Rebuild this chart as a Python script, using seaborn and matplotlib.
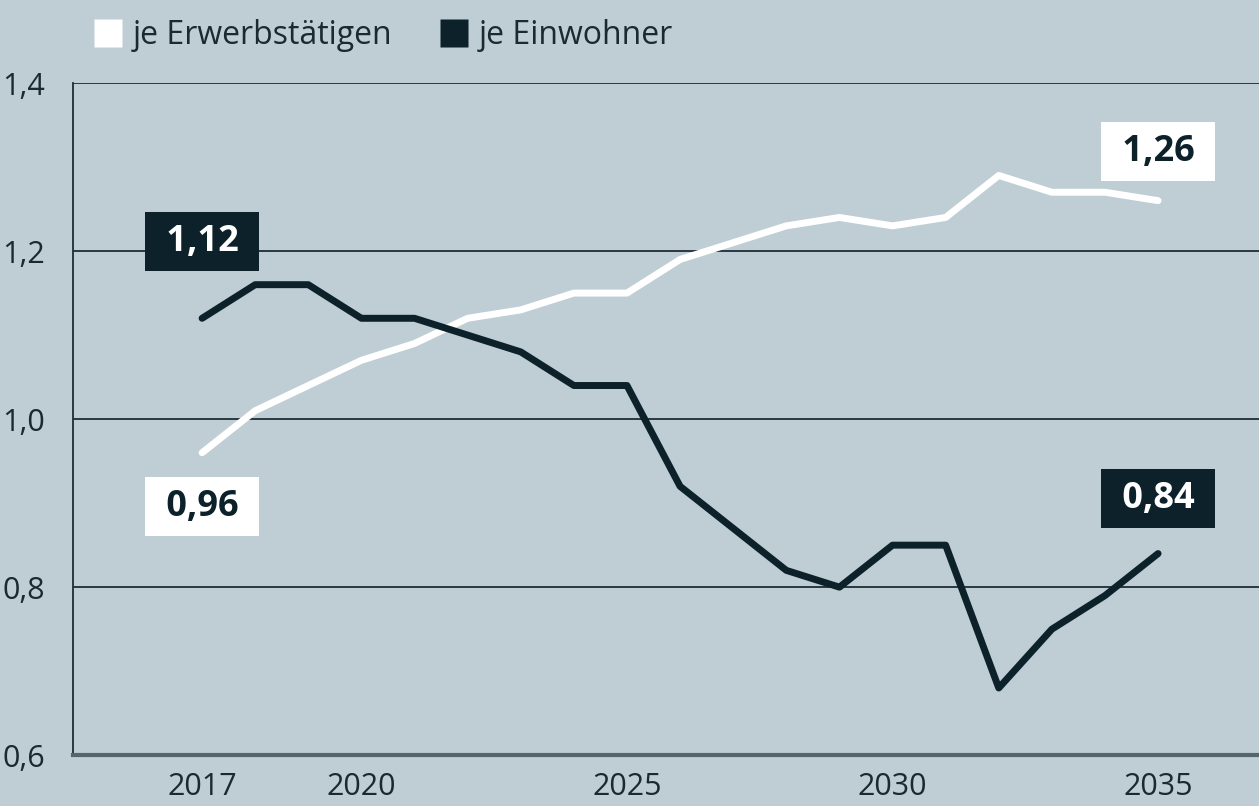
import numpy as np
import pandas as pd
import matplotlib
matplotlib.use('Agg')
import matplotlib.pyplot as plt
from matplotlib.lines import Line2D
import seaborn as sns

#data
years = list(range(2017, 2036))
erwerb = [0.96, 1.01, 1.04, 1.07, 1.09, 1.12, 1.13, 1.15, 1.15, 1.19,
          1.21, 1.23, 1.24, 1.23, 1.24, 1.29, 1.27, 1.27, 1.26]
einw = [1.12, 1.16, 1.16, 1.12, 1.12, 1.10, 1.08, 1.04, 1.04, 0.92,
        0.87, 0.82, 0.80, 0.85, 0.85, 0.68, 0.75, 0.79, 0.84]
series_names = ['je Erwerbstätigen', 'je Einwohner']
x_ticks = [2017, 2020, 2025, 2030, 2035]
y_ticks = [0.6, 0.8, 1.0, 1.2, 1.4]

bg = '#bfcdd5'
dark = '#0c212a'
txt = '#1b2a31'

df = pd.DataFrame({'Jahr': years * 2,
                   'Wert': erwerb + einw,
                   'Reihe': [series_names[0]] * len(years) + [series_names[1]] * len(years)})

sns.set_theme(style='white')
plt.rcParams['font.family'] = ['Open Sans', 'DejaVu Sans']

fig = plt.figure(figsize=(12.59, 8.06), dpi=100, facecolor=bg)
ax = fig.add_axes([0.058, 0.063, 0.942, 0.834])
ax.set_facecolor(bg)

sns.lineplot(data=df, x='Jahr', y='Wert', hue='Reihe',
             palette={series_names[0]: 'white', series_names[1]: dark},
             linewidth=5, legend=False, ax=ax, zorder=3)

ax.set_xlim(2014.57, 2036.9)
ax.set_ylim(0.6, 1.4)
ax.set_xticks(x_ticks)
ax.set_yticks(y_ticks)
ax.set_yticklabels([f'{v:.1f}'.replace('.', ',') for v in y_ticks])
ax.tick_params(axis='both', length=0, labelsize=22, colors=txt)
ax.tick_params(axis='x', pad=12)
ax.tick_params(axis='y', pad=20)
ax.set_xlabel('')
ax.set_ylabel('')

ax.yaxis.grid(True, color='#1e2d35', linewidth=1.3, zorder=1)
ax.xaxis.grid(False)
for s in ['top', 'right']:
    ax.spines[s].set_visible(False)
ax.spines['left'].set_color('#1e2d35')
ax.spines['left'].set_linewidth(1.3)
ax.spines['bottom'].set_color('#55656d')
ax.spines['bottom'].set_linewidth(3)

#value labels
def box_label(x, y, s, fc, tc):
    ax.text(x, y, ' ' + s + ' ', ha='center', va='center', fontsize=26, fontweight='bold', color=tc,
            bbox=dict(boxstyle='square,pad=0.32', fc=fc, ec='none'), zorder=5)

box_label(years[0], 1.211, '1,12', dark, 'white')
box_label(years[0], 0.896, '0,96', 'white', dark)
box_label(years[-1], 1.318, '1,26', 'white', dark)
box_label(years[-1], 0.905, '0,84', dark, 'white')

handles = [Line2D([], [], ls='none', marker='s', markersize=20, markerfacecolor='white', markeredgecolor='none'),
           Line2D([], [], ls='none', marker='s', markersize=20, markerfacecolor=dark, markeredgecolor='none')]
fig.legend(handles, series_names, loc='upper left', bbox_to_anchor=(0.05, 1.012), ncol=2,
           frameon=False, fontsize=23, labelcolor=txt, handletextpad=0.3, columnspacing=1.4,
           handlelength=1.0)

fig.savefig('out.png', dpi=100, facecolor=bg)
